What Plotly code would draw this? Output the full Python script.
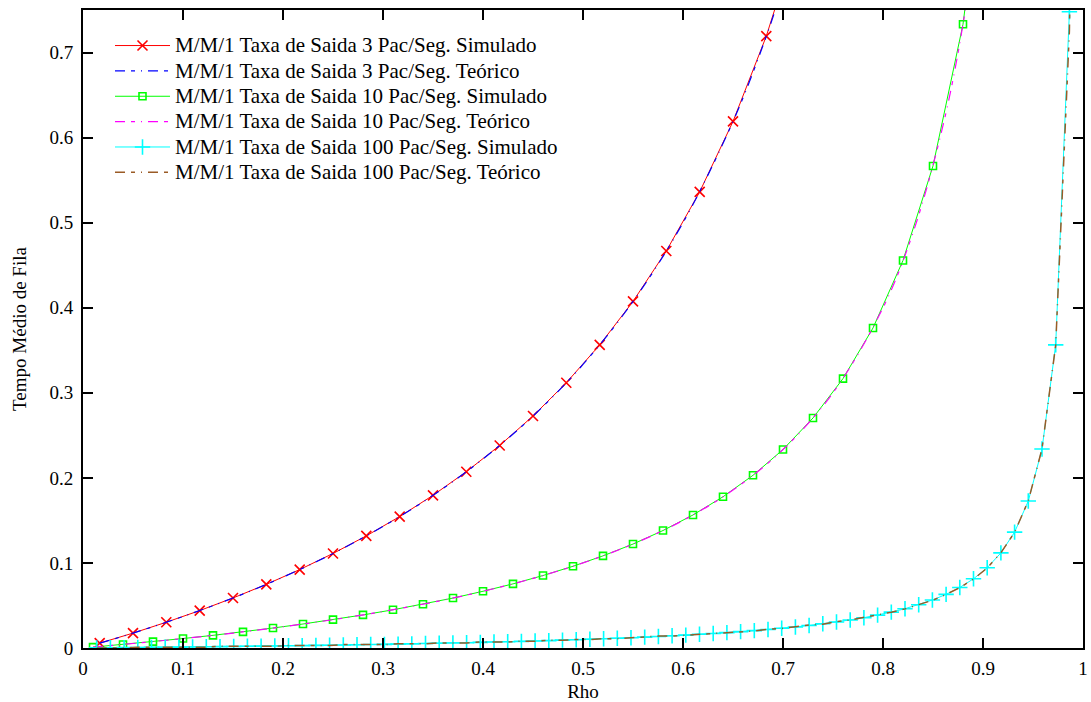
import plotly.graph_objects as go

# ---- mu = 3 ----
rho_sim_3 = [0.0167, 0.05, 0.0833, 0.1167, 0.15, 0.1833, 0.2167, 0.25, 0.2833, 0.3167,
             0.35, 0.3833, 0.4167, 0.45, 0.4833, 0.5167, 0.55, 0.5833, 0.6167, 0.65,
             0.6833, 0.7167]
wq_sim_3 = [0.0057, 0.0175, 0.0303, 0.0440, 0.0588, 0.0748, 0.0922, 0.1111, 0.1318, 0.1545,
            0.1795, 0.2072, 0.2381, 0.2727, 0.3118, 0.3563, 0.4074, 0.4667, 0.5362, 0.6190,
            0.7193, 0.8431]
rho_teo_3 = [0.0167, 0.05, 0.1, 0.15, 0.2, 0.25, 0.3, 0.35, 0.4, 0.45, 0.5, 0.55, 0.6,
             0.65, 0.68, 0.7, 0.72]
wq_teo_3 = [0.0057, 0.0175, 0.0370, 0.0588, 0.0833, 0.1111, 0.1429, 0.1795, 0.2222, 0.2727,
            0.3333, 0.4074, 0.5000, 0.6190, 0.7083, 0.7778, 0.8571]

# ---- mu = 10 ----
rho_sim_10 = [0.01, 0.04, 0.07, 0.10, 0.13, 0.16, 0.19, 0.22, 0.25, 0.28, 0.31, 0.34, 0.37,
              0.40, 0.43, 0.46, 0.49, 0.52, 0.55, 0.58, 0.61, 0.64, 0.67, 0.70, 0.73, 0.76,
              0.79, 0.82, 0.85, 0.88, 0.91]
wq_sim_10 = [0.0010, 0.0042, 0.0075, 0.0111, 0.0149, 0.0190, 0.0235, 0.0282, 0.0333, 0.0389,
             0.0449, 0.0515, 0.0587, 0.0667, 0.0754, 0.0852, 0.0961, 0.1083, 0.1222, 0.1381,
             0.1564, 0.1778, 0.2030, 0.2333, 0.2704, 0.3167, 0.3762, 0.4556, 0.5667, 0.7333,
             1.0111]
rho_teo_10 = [0.01, 0.05, 0.1, 0.15, 0.2, 0.25, 0.3, 0.35, 0.4, 0.45, 0.5, 0.55, 0.6, 0.65,
              0.7, 0.75, 0.8, 0.83, 0.86, 0.88, 0.9]
wq_teo_10 = [0.0010, 0.0053, 0.0111, 0.0176, 0.0250, 0.0333, 0.0429, 0.0538, 0.0667, 0.0818,
             0.1000, 0.1222, 0.1500, 0.1857, 0.2333, 0.3000, 0.4000, 0.4882, 0.6143, 0.7333,
             0.9000]

# ---- mu = 100 ----
rho_sim_100 = [0.0137, 0.0274, 0.0411, 0.0548, 0.0685, 0.0822, 0.0959, 0.1096, 0.1233, 0.137,
               0.1507, 0.1644, 0.1781, 0.1918, 0.2055, 0.2192, 0.2329, 0.2466, 0.2603, 0.274,
               0.2877, 0.3014, 0.3151, 0.3288, 0.3425, 0.3562, 0.3699, 0.3836, 0.3973, 0.411,
               0.4247, 0.4384, 0.4521, 0.4658, 0.4795, 0.4932, 0.5069, 0.5206, 0.5343, 0.548,
               0.5617, 0.5754, 0.5891, 0.6028, 0.6165, 0.6302, 0.6439, 0.6576, 0.6713, 0.685,
               0.6987, 0.7124, 0.7261, 0.7398, 0.7535, 0.7672, 0.7809, 0.7946, 0.8083, 0.822,
               0.8357, 0.8494, 0.8631, 0.8768, 0.8905, 0.9042, 0.9179, 0.9316, 0.9453, 0.959,
               0.9727, 0.9864]
wq_sim_100 = [0.00014, 0.00028, 0.00043, 0.00058, 0.00074, 0.00090, 0.00106, 0.00123, 0.00141,
              0.00159, 0.00177, 0.00197, 0.00217, 0.00237, 0.00259, 0.00281, 0.00304, 0.00327,
              0.00352, 0.00377, 0.00404, 0.00431, 0.00460, 0.00490, 0.00521, 0.00553, 0.00587,
              0.00622, 0.00659, 0.00698, 0.00738, 0.00781, 0.00825, 0.00872, 0.00921, 0.00973,
              0.01028, 0.01086, 0.01147, 0.01212, 0.01282, 0.01355, 0.01434, 0.01518, 0.01608,
              0.01704, 0.01808, 0.01921, 0.02042, 0.02175, 0.02319, 0.02477, 0.02651, 0.02843,
              0.03057, 0.03296, 0.03564, 0.03869, 0.04216, 0.04618, 0.05086, 0.05640, 0.06305,
              0.07117, 0.08132, 0.09438, 0.11179, 0.13620, 0.17282, 0.23390, 0.35630, 0.74800]
rho_teo_100 = rho_sim_100 + [0.99]
wq_teo_100 = [0.000, 0.000, 0.000, 0.001, 0.001, 0.001, 0.001, 0.001, 0.001, 0.002,
              0.002, 0.002, 0.002, 0.002, 0.003, 0.003, 0.003, 0.003, 0.004, 0.004,
              0.004, 0.004, 0.005, 0.005, 0.005, 0.006, 0.006, 0.006, 0.007, 0.007,
              0.007, 0.008, 0.008, 0.009, 0.009, 0.010, 0.010, 0.011, 0.011, 0.012,
              0.013, 0.014, 0.014, 0.015, 0.016, 0.017, 0.018, 0.019, 0.020, 0.022,
              0.023, 0.025, 0.027, 0.028, 0.031, 0.033, 0.036, 0.039, 0.042, 0.046,
              0.051, 0.056, 0.063, 0.071, 0.081, 0.094, 0.112, 0.136, 0.173, 0.234,
              0.356, 0.725, 0.990]

x_ticks = [0, 0.1, 0.2, 0.3, 0.4, 0.5, 0.6, 0.7, 0.8, 0.9, 1]
x_labels = ["0", "0.1", "0.2", "0.3", "0.4", "0.5", "0.6", "0.7", "0.8", "0.9", "1"]
y_ticks = [0, 0.1, 0.2, 0.3, 0.4, 0.5, 0.6, 0.7]
y_labels = ["0", "0.1", "0.2", "0.3", "0.4", "0.5", "0.6", "0.7"]

names = [
    "M/M/1 Taxa de Saida 3 Pac/Seg. Simulado",
    "M/M/1 Taxa de Saida 3 Pac/Seg. Teórico",
    "M/M/1 Taxa de Saida 10 Pac/Seg. Simulado",
    "M/M/1 Taxa de Saida 10 Pac/Seg. Teórico",
    "M/M/1 Taxa de Saida 100 Pac/Seg. Simulado",
    "M/M/1 Taxa de Saida 100 Pac/Seg. Teórico",
]

FONT = "Liberation Serif"
DASHDOT = "10px,6px,4px,6px,1px,6px"


def big(s):
    return '<span style="font-size:21px">' + s + '</span>'


fig = go.Figure()

fig.add_trace(go.Scatter(x=rho_sim_3, y=wq_sim_3, name=big(names[0]), mode="lines+markers",
                         line=dict(color="#ff0000", width=1),
                         marker=dict(symbol="x-thin", size=10, line=dict(color="#ff0000", width=1.6))))
fig.add_trace(go.Scatter(x=rho_teo_3, y=wq_teo_3, name=big(names[1]), mode="lines",
                         line=dict(color="#0000ff", width=1.2, dash=DASHDOT, shape="spline")))
fig.add_trace(go.Scatter(x=rho_sim_10, y=wq_sim_10, name=big(names[2]), mode="lines+markers",
                         line=dict(color="#00ff00", width=1),
                         marker=dict(symbol="square-open", size=7, color="#00ff00",
                                     line=dict(color="#00ff00", width=1.6))))
fig.add_trace(go.Scatter(x=rho_teo_10, y=wq_teo_10, name=big(names[3]), mode="lines",
                         line=dict(color="#ff00ff", width=1.2, dash=DASHDOT, shape="spline")))
fig.add_trace(go.Scatter(x=rho_sim_100, y=wq_sim_100, name=big(names[4]), mode="lines+markers",
                         line=dict(color="#00ffff", width=1),
                         marker=dict(symbol="cross-thin", size=11, line=dict(color="#00ffff", width=1.6))))
fig.add_trace(go.Scatter(x=rho_teo_100, y=wq_teo_100, name=big(names[5]), mode="lines",
                         line=dict(color="#9a5b26", width=1.5, dash=DASHDOT)))

axis_common = dict(
    showline=True, linecolor="black", linewidth=2, mirror="ticks",
    ticks="inside", ticklen=10, tickwidth=1.5, tickcolor="black",
    showgrid=False, zeroline=False, automargin=False,
    tickfont=dict(family=FONT, size=19, color="black"),
)

fig.update_xaxes(range=[0, 1], tickvals=x_ticks, ticktext=x_labels,
                 title=dict(text="Rho", font=dict(family=FONT, size=19, color="black"), standoff=8),
                 ticklabelstandoff=2, **axis_common)
fig.update_yaxes(range=[0, 0.75], tickvals=y_ticks, ticktext=y_labels,
                 title=dict(text="Tempo Médio de Fila", font=dict(family=FONT, size=19, color="black"), standoff=18),
                 ticklabelstandoff=4, **axis_common)

fig.update_layout(
    width=1091, height=702,
    margin=dict(l=83, r=8, t=10, b=54),
    paper_bgcolor="white", plot_bgcolor="white",
    showlegend=True,
    legend=dict(x=0.027, y=0.972, xanchor="left", yanchor="top",
                bgcolor="rgba(0,0,0,0)", borderwidth=0,
                font=dict(family=FONT, size=17.2, color="black"),
                itemwidth=55),
    font=dict(family=FONT, color="black"),
)

fig.write_html("out.html")
